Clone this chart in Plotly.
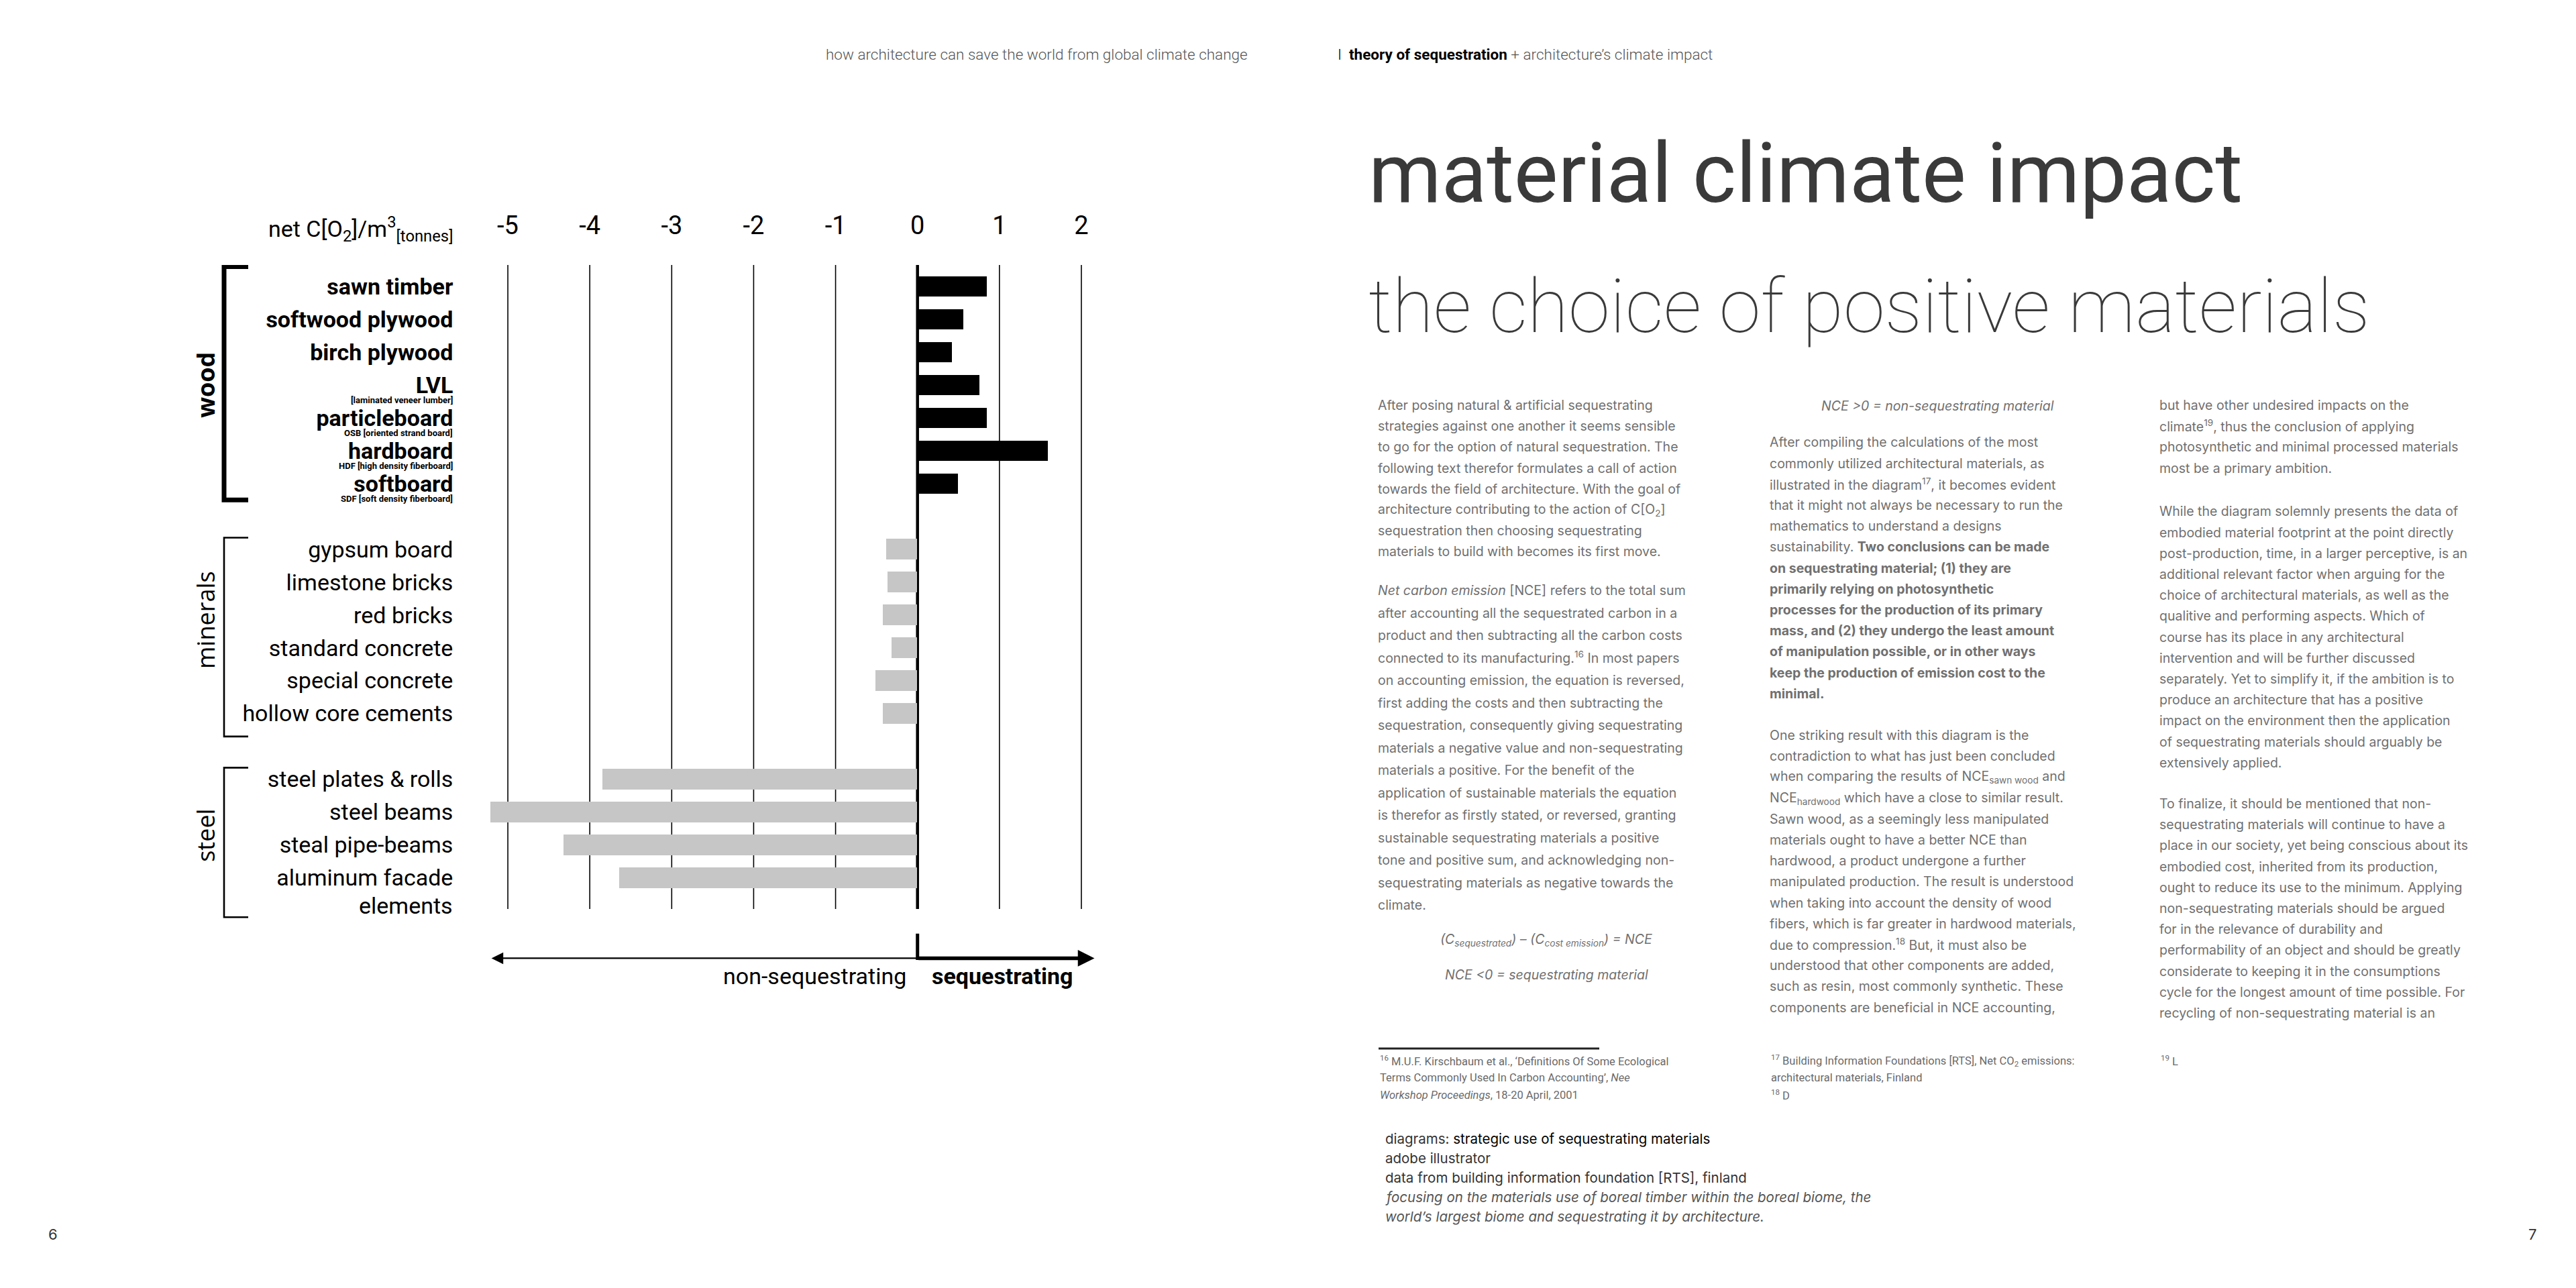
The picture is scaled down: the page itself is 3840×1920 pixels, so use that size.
import plotly.graph_objects as go

W, H = 3840, 1920

# ---------------- data ----------------
wood_labels = ["sawn timber", "softwood plywood", "birch plywood", "LVL",
               "particleboard", "hardboard", "softboard"]
wood_notes = ["", "", "", "[laminated veneer lumber]", "OSB [oriented strand board]",
              "HDF [high density fiberboard]", "SDF [soft density fiberboard]"]
wood_values = [0.85, 0.56, 0.42, 0.76, 0.85, 1.59, 0.50]

mineral_labels = ["gypsum board", "limestone bricks", "red bricks",
                  "standard concrete", "special concrete", "hollow core cements"]
mineral_values = [-0.38, -0.36, -0.42, -0.31, -0.51, -0.42]

steel_labels = ["steel plates & rolls", "steel beams", "steal pipe-beams", "aluminum facade"]
steel_label_extra = ["", "", "", "elements"]
steel_values = [-3.84, -5.21, -4.32, -3.64]

group_names = ["wood", "minerals", "steel"]
x_ticks = [-5, -4, -3, -2, -1, 0, 1, 2]
x_tick_labels = ["-5", "-4", "-3", "-2", "-1", "0", "1", "2"]

header_left = "how architecture can save the world from global climate change"
header_right = ("I  <b>theory of sequestration</b>"
                "<span style='color:#555555'> + architecture’s climate impact</span>")
title = "material climate impact"
subtitle = "the choice of positive materials"

col1_p1 = [
    "After posing natural &amp; artificial sequestrating",
    "strategies against one another it seems sensible",
    "to go for the option of natural sequestration. The",
    "following text therefor formulates a call of action",
    "towards the field of architecture. With the goal of",
    "architecture contributing to the action of C[O<sub>2</sub>]",
    "sequestration then choosing sequestrating",
    "materials to build with becomes its first move.",
]
col1_p2 = [
    "<i>Net carbon emission</i> [NCE] refers to the total sum",
    "after accounting all the sequestrated carbon in a",
    "product and then subtracting all the carbon costs",
    "connected to its manufacturing.<sup>16</sup> In most papers",
    "on accounting emission, the equation is reversed,",
    "first adding the costs and then subtracting the",
    "sequestration, consequently giving sequestrating",
    "materials a negative value and non-sequestrating",
    "materials a positive. For the benefit of the",
    "application of sustainable materials the equation",
    "is therefor as firstly stated, or reversed, granting",
    "sustainable sequestrating materials a positive",
    "tone and positive sum, and acknowledging non-",
    "sequestrating materials as negative towards the",
    "climate.",
]
equation_1 = "<i>(C<sub>sequestrated</sub>) – (C<sub>cost emission</sub>) = NCE</i>"
equation_2 = "<i>NCE &lt;0 = sequestrating material</i>"
equation_3 = "<i>NCE &gt;0 = non-sequestrating material</i>"

col2_p1 = [
    "After compiling the calculations of the most",
    "commonly utilized architectural materials, as",
    "illustrated in the diagram<sup>17</sup>, it becomes evident",
    "that it might not always be necessary to run the",
    "mathematics to understand a designs",
    "sustainability. <b>Two conclusions can be made</b>",
    "<b>on sequestrating material; (1) they are</b>",
    "<b>primarily relying on photosynthetic</b>",
    "<b>processes for the production of its primary</b>",
    "<b>mass, and (2) they undergo the least amount</b>",
    "<b>of manipulation possible, or in other ways</b>",
    "<b>keep the production of emission cost to the</b>",
    "<b>minimal.</b>",
]
col2_p2 = [
    "One striking result with this diagram is the",
    "contradiction to what has just been concluded",
    "when comparing the results of NCE<sub>sawn wood</sub> and",
    "NCE<sub>hardwood</sub> which have a close to similar result.",
    "Sawn wood, as a seemingly less manipulated",
    "materials ought to have a better NCE than",
    "hardwood, a product undergone a further",
    "manipulated production. The result is understood",
    "when taking into account the density of wood",
    "fibers, which is far greater in hardwood materials,",
    "due to compression.<sup>18</sup> But, it must also be",
    "understood that other components are added,",
    "such as resin, most commonly synthetic. These",
    "components are beneficial in NCE accounting,",
]
col3_p1 = [
    "but have other undesired impacts on the",
    "climate<sup>19</sup>, thus the conclusion of applying",
    "photosynthetic and minimal processed materials",
    "most be a primary ambition.",
]
col3_p2 = [
    "While the diagram solemnly presents the data of",
    "embodied material footprint at the point directly",
    "post-production, time, in a larger perceptive, is an",
    "additional relevant factor when arguing for the",
    "choice of architectural materials, as well as the",
    "qualitive and performing aspects. Which of",
    "course has its place in any architectural",
    "intervention and will be further discussed",
    "separately. Yet to simplify it, if the ambition is to",
    "produce an architecture that has a positive",
    "impact on the environment then the application",
    "of sequestrating materials should arguably be",
    "extensively applied.",
]
col3_p3 = [
    "To finalize, it should be mentioned that non-",
    "sequestrating materials will continue to have a",
    "place in our society, yet being conscious about its",
    "embodied cost, inherited from its production,",
    "ought to reduce its use to the minimum. Applying",
    "non-sequestrating materials should be argued",
    "for in the relevance of durability and",
    "performability of an object and should be greatly",
    "considerate to keeping it in the consumptions",
    "cycle for the longest amount of time possible. For",
    "recycling of non-sequestrating material is an",
]
foot_16 = [
    "<sup>16</sup> M.U.F. Kirschbaum et al., ‘Definitions Of Some Ecological",
    "Terms Commonly Used In Carbon Accounting’, <i>Nee</i>",
    "<i>Workshop Proceedings</i>, 18-20 April, 2001",
]
foot_17 = [
    "<sup>17</sup> Building Information Foundations [RTS], Net CO<sub>2</sub> emissions:",
    "architectural materials, Finland",
    "<sup>18</sup> D",
]
foot_19 = ["<sup>19</sup> L"]
captions = [
    "<span style='color:#333333'>diagrams: </span><span style='color:#000000'>strategic use of sequestrating materials</span>",
    "adobe illustrator",
    "data from building information foundation [RTS], finland",
    "<i>focusing on the materials use of boreal timber within the boreal biome, the</i>",
    "<i>world’s largest biome and sequestrating it by architecture.</i>",
]
page_numbers = ["6", "7"]

# ---------------- styling ----------------
NARROW = "Roboto, Liberation Sans, sans-serif"
BODY = "Inter, Roboto, sans-serif"
GROUPF = "Open Sans, DejaVu Sans, sans-serif"
BODY_COL = "#707070"

rows_wood = list(range(0, 7))
rows_min = list(range(8, 14))
rows_steel = list(range(15, 19))
rows = rows_wood + rows_min + rows_steel
values = wood_values + mineral_values + steel_values
colors = ["#000000"] * len(wood_values) + ["#c6c6c6"] * (len(mineral_values) + len(steel_values))
ticktext = ["<b>%s</b>" % l for l in wood_labels] + mineral_labels + steel_labels

# axis geometry (pixels in the 3840x1920 page)
X_RANGE = [-5.3, 2.2]
Y_RANGE = [21.6, -0.65]
x_dom = [712.4 / W, 1628.4 / W]
y_dom = [1 - 1476.8 / H, 1 - 387.0 / H]

fig = go.Figure()
fig.add_trace(go.Bar(
    y=rows, x=values, orientation="h", width=0.62,
    marker=dict(color=colors, line=dict(width=0)),
    hoverinfo="skip", showlegend=False,
))

shapes = []
annotations = []

# grid lines (drawn from tick values)
for t in x_ticks:
    shapes.append(dict(type="line", xref="x", yref="y", x0=t, x1=t, y0=-0.65, y1=18.95,
                       line=dict(color="#000000", width=4.5 if t == 0 else 1.6), layer="below"))

# group brackets
group_rows = [rows_wood, rows_min, rows_steel]
group_pad = [(-0.6, 0.5), (-0.35, 0.7), (-0.35, 1.2)]
group_lw = [7, 2.6, 2.6]
group_bold = [True, False, False]
group_center = [3.0, 10.15, 16.7]
bx0, bx1 = 326.0 / W, 362.0 / W
for g, rr, (p0, p1), lw, bold, yc in zip(group_names, group_rows, group_pad, group_lw, group_bold, group_center):
    y0 = rr[0] + p0
    y1 = rr[-1] + p1
    shapes.append(dict(type="path", xref="paper", yref="y",
                       path="M %f,%f L %f,%f L %f,%f L %f,%f" % (bx1, y0, bx0, y0, bx0, y1, bx1, y1),
                       line=dict(color="#000000", width=lw)))
    annotations.append(dict(xref="paper", yref="y", x=299.0 / W, y=yc,
                            text="<b>%s</b>" % g if bold else g, textangle=-90, showarrow=False,
                            xanchor="center", yanchor="middle",
                            font=dict(family=GROUPF, size=36, color="#000000")))

# sub-labels for wood products and second line of aluminum label
LABEL_RIGHT = 668.6 / W
LABEL_SIZE = 34
for r, note in zip(rows_wood, wood_notes):
    if note:
        annotations.append(dict(xref="paper", yref="y", x=LABEL_RIGHT, y=r + 0.47, text="<b>%s</b>" % note,
                                showarrow=False, xanchor="right", yanchor="middle",
                                font=dict(family=NARROW, size=13, color="#000000")))
for r, extra in zip(rows_steel, steel_label_extra):
    if extra:
        annotations.append(dict(xref="paper", yref="y", x=LABEL_RIGHT, y=r + 0.85, text=extra,
                                showarrow=False, xanchor="right", yanchor="middle",
                                font=dict(family=NARROW, size=LABEL_SIZE, color="#000000")))

# axis title
annotations.append(dict(xref="paper", yref="paper", x=LABEL_RIGHT, y=1 - 333 / H,
                        text="net C[O<sub>2</sub>]/m<sup>3</sup><sub>[tonnes]</sub>",
                        showarrow=False, xanchor="right", yanchor="middle",
                        font=dict(family=NARROW, size=LABEL_SIZE, color="#000000")))

# bottom direction arrows
ARROW_Y = 20.45
annotations.append(dict(xref="x", yref="y", axref="x", ayref="y", x=-5.2, y=ARROW_Y, ax=0, ay=ARROW_Y,
                        text="", showarrow=True, arrowhead=2, arrowsize=1.6, arrowwidth=2.2,
                        arrowcolor="#000000"))
annotations.append(dict(xref="x", yref="y", axref="x", ayref="y", x=2.16, y=ARROW_Y, ax=0, ay=ARROW_Y,
                        text="", showarrow=True, arrowhead=2, arrowsize=0.9, arrowwidth=5.5,
                        arrowcolor="#000000"))
shapes.append(dict(type="line", xref="x", yref="y", x0=0, x1=0, y0=19.7, y1=ARROW_Y + 0.05,
                   line=dict(color="#000000", width=5)))
annotations.append(dict(xref="x", yref="y", x=-0.12, y=21.0, text="non-sequestrating", showarrow=False,
                        xanchor="right", yanchor="middle", font=dict(family=NARROW, size=LABEL_SIZE, color="#000000")))
annotations.append(dict(xref="x", yref="y", x=0.16, y=21.0, text="<b>sequestrating</b>", showarrow=False,
                        xanchor="left", yanchor="middle", font=dict(family=NARROW, size=LABEL_SIZE, color="#000000")))


def txt(x, y, text, size, color, family, xanchor="left", weight="normal"):
    annotations.append(dict(xref="paper", yref="paper", x=x / W, y=1 - y / H, text=text,
                            showarrow=False, xanchor=xanchor, yanchor="middle",
                            font=dict(size=size, color=color, family=family, weight=weight)))


def para(lines, x, y0, step, size=19.5, color=BODY_COL, family=BODY, weight="normal"):
    for i, ln in enumerate(lines):
        txt(x, y0 + i * step, ln, size, color, family, weight=weight)


# header + page numbers
txt(1854, 73, header_left, 22.5, "#555555", NARROW, xanchor="right", weight=300)
txt(1984, 73, header_right, 22.5, "#000000", NARROW, weight=300)
txt(71, 1832, page_numbers[0], 22, "#333333", BODY, xanchor="center")
txt(3767, 1832, page_numbers[1], 22, "#333333", BODY, xanchor="center")

# titles
txt(2030, 250, title, 124, "#3a3a3a", NARROW)
txt(2030, 448, subtitle, 112, "#3a3a3a", NARROW, weight=100)

# body columns
C1, C2, C3 = 2044, 2628, 3209
LS = 31.2
para(col1_p1, C1, 596.0, LS)
para(col1_p2, C1, 872.0, 33.5)
txt(2297, 1393, equation_1, 19.5, BODY_COL, BODY, xanchor="center")
txt(2297, 1445, equation_2, 19.5, BODY_COL, BODY, xanchor="center")
txt(2880, 597, equation_3, 19.5, BODY_COL, BODY, xanchor="center")
para(col2_p1, C2, 651.4, LS)
para(col2_p2, C2, 1088.0, LS)
para(col3_p1, C3, 596.0, LS)
para(col3_p2, C3, 754.3, LS)
para(col3_p3, C3, 1190.0, LS)

# footnotes
shapes.append(dict(type="line", xref="paper", yref="paper", x0=2047 / W, x1=2376 / W,
                   y0=1 - 1555 / H, y1=1 - 1555 / H, line=dict(color="#222222", width=3)))
para(foot_16, C1 + 3, 1573, 25.5, size=16.5, color="#6a6a6a", family=NARROW)
para(foot_17, C2 + 2, 1573, 25.5, size=16.5, color="#6a6a6a", family=NARROW)
para(foot_19, C3 + 2, 1573, 25.5, size=16.5, color="#6a6a6a", family=NARROW)

# captions
para(captions[:3], 2055, 1689, 29.3, size=20.5, color="#333333", family=BODY)
para(captions[3:], 2055, 1776, 29.3, size=20.5, color="#555555", family=BODY)

fig.update_layout(
    width=W, height=H, margin=dict(l=0, r=0, t=0, b=0),
    paper_bgcolor="#ffffff", plot_bgcolor="#ffffff",
    showlegend=False, bargap=0,
    xaxis=dict(domain=x_dom, range=X_RANGE, side="top", tickvals=x_ticks, ticktext=x_tick_labels,
               showgrid=False, zeroline=False, showline=False, ticks="", ticklabelstandoff=37,
               tickfont=dict(family=NARROW, size=38, color="#000000"), fixedrange=True),
    yaxis=dict(domain=y_dom, range=Y_RANGE, tickvals=rows, ticktext=ticktext,
               showgrid=False, zeroline=False, showline=False, ticks="", ticklabelstandoff=44,
               tickfont=dict(family=NARROW, size=LABEL_SIZE, color="#000000"), fixedrange=True),
    shapes=shapes, annotations=annotations,
)

fig.write_html("out.html")
